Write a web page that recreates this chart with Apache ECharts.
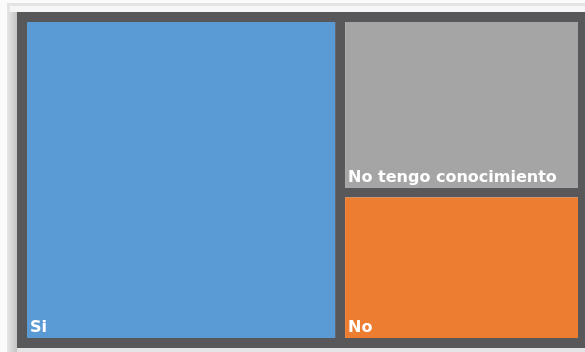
<!DOCTYPE html>
<html>
<head>
<meta charset="utf-8">
<script src="https://cdn.jsdelivr.net/npm/echarts@6/dist/echarts.min.js"></script>
<style>
html, body { margin: 0; padding: 0; background: #ffffff; }
#main { width: 585px; height: 352px; }
</style>
</head>
<body>
<div id="main"></div>
<script>
// datos del treemap (porcentajes estimados)
var categorias = ['Si', 'No tengo conocimiento', 'No'];
var valores = [56.7, 23.3, 20.0];
var colores = ['#5b9bd5', '#a5a5a5', '#ed7d31'];

var datos = [];
for (var i = 0; i < categorias.length; i++) {
	datos.push({
		name: categorias[i],
		value: valores[i],
		itemStyle: { color: colores[i] }
	});
}

var chart = echarts.init(document.getElementById('main'));
chart.setOption({
	animation: false,
	backgroundColor: '#fbfbfb',
	graphic: [
		// marco claro alrededor
		{ type: 'rect', shape: { x: 7, y: 3, width: 578, height: 349 }, style: { fill: '#e4e4e4' }, z: -10 },
		{ type: 'rect', shape: { x: 10, y: 6, width: 575, height: 6 }, style: { fill: '#f6f6f6' }, z: -9 },
		{
			type: 'rect', shape: { x: 7, y: 12, width: 10, height: 340 }, z: -9,
			style: {
				fill: new echarts.graphic.LinearGradient(0, 0, 1, 0, [
					{ offset: 0, color: '#e6e6e6' },
					{ offset: 1, color: '#c4c4c4' }
				])
			}
		}
	],
	series: [{
		type: 'treemap',
		left: 17,
		top: 12,
		width: 571,
		height: 336,
		roam: false,
		nodeClick: false,
		squareRatio: 1,
		breadcrumb: { show: false },
		sort: 'desc',
		label: {
			show: true,
			position: 'insideBottomLeft',
			color: '#ffffff',
			fontFamily: 'DejaVu Sans',
			fontWeight: 'bold',
			fontSize: 16,
			padding: [0, 0, 2, 3]
		},
		levels: [
			{ itemStyle: { borderColor: '#58585a', borderWidth: 10, gapWidth: 10 } },
			{ itemStyle: { borderWidth: 0, gapWidth: 0 } }
		],
		data: datos
	}]
});
</script>
</body>
</html>
